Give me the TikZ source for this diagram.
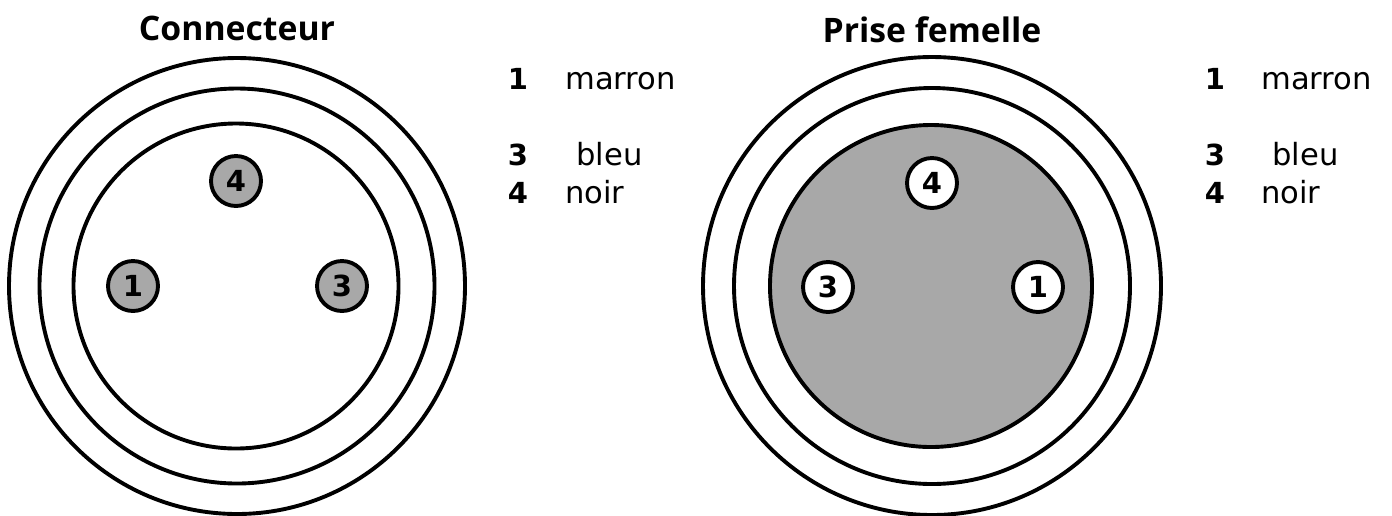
\documentclass[tikz,border=0pt]{standalone}
\usepackage{fontspec}
\setmainfont{DejaVu Sans}
\newfontfamily\titlefont{Open Sans}
\tikzset{
  x=0.02cm,y=-0.02cm,
  ring/.style={circle,draw=black,line width=0.078cm,inner sep=0pt,minimum size=#1*0.02cm},
  pin/.style={circle,draw=black,line width=0.078cm,inner sep=0pt,minimum size=1cm,font=\fontsize{16.5}{16.5}\selectfont\bfseries},
  heading/.style={font=\titlefont\fontsize{19.2}{20}\selectfont\bfseries,inner sep=0pt},
  num/.style={font=\fontsize{16.5}{17}\selectfont\bfseries,inner sep=0pt,anchor=base},
  lab/.style={font=\fontsize{17.4}{18}\selectfont,inner sep=0pt,anchor=base west},
}
\definecolor{pingrey}{gray}{0.66}
\begin{document}
\begin{tikzpicture}
\useasboundingbox (0,0) rectangle (1392,515);
\node[heading] (t1) at (237,28) {Connecteur};
\node[heading] (t2) at (932,30) {Prise femelle};
% left
\node[ring=456] (a1) at (237,286) {};
\node[ring=395] (a2) at (237,286) {};
\node[ring=325] (a3) at (236,286) {};
\node[pin,fill=pingrey] (p4) at (236,181) {4};
\node[pin,fill=pingrey] (p1) at (133,286) {1};
\node[pin,fill=pingrey] (p3) at (342,286) {3};
% right
\node[ring=458] (b1) at (932,286) {};
\node[ring=396] (b2) at (932,286) {};
\node[ring=322,fill=pingrey] (b3) at (931,286) {};
\node[pin,fill=white] (q4) at (932,183) {4};
\node[pin,fill=white] (q3) at (828,287) {3};
\node[pin,fill=white] (q1) at (1038,287) {1};
% legends
\node[num] (n1) at (518,89) {1};
\node[lab] (m1) at (565,89) {marron};
\node[num] (n3) at (518,165) {3};
\node[lab] (m3) at (576,165) {bleu};
\node[num] (n4) at (518,203) {4};
\node[lab] (m4) at (565,203) {noir};
\node[num] (r1) at (1215,89) {1};
\node[lab] (s1) at (1261,89) {marron};
\node[num] (r3) at (1215,165) {3};
\node[lab] (s3) at (1272,165) {bleu};
\node[num] (r4) at (1215,203) {4};
\node[lab] (s4) at (1261,203) {noir};
\end{tikzpicture}
\end{document}
